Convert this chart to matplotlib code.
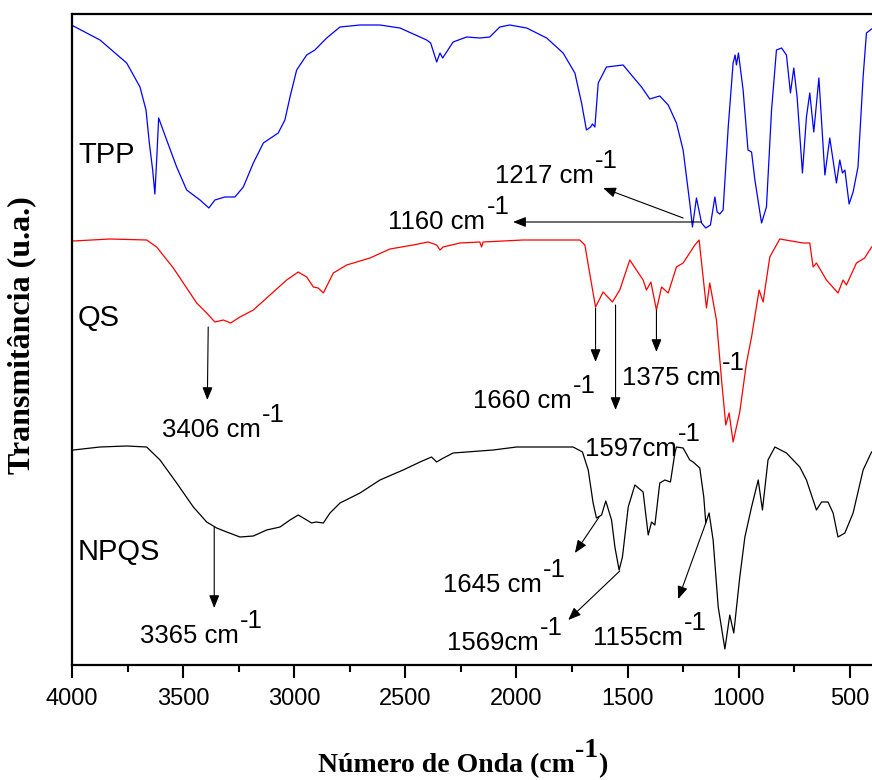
import matplotlib
matplotlib.use("Agg")
import matplotlib.pyplot as plt

plt.rcParams["font.family"] = ["Liberation Sans", "DejaVu Sans"]

# FTIR spectra (wavenumber in cm-1, transmittance in arbitrary units)
tpp_wn = [3994, 3874, 3754, 3694, 3667, 3652, 3637, 3627, 3619, 3610, 3574, 3529, 3484, 3424, 3384,
          3357, 3312, 3267, 3229, 3184, 3139, 3072, 3042, 3019, 2989, 2944, 2907, 2854, 2794, 2704,
          2614, 2524, 2404, 2386, 2359, 2344, 2332, 2285, 2224, 2165, 2120, 2075, 2030, 1954, 1864,
          1790, 1737, 1707, 1685, 1666, 1658, 1647, 1632, 1595, 1520, 1475, 1437, 1400, 1355, 1317,
          1280, 1250, 1220, 1208, 1190, 1167, 1148, 1127, 1107, 1097, 1085, 1070, 1047, 1025, 1016,
          1010, 1001, 980, 958, 942, 927, 897, 875, 852, 830, 807, 785, 767, 752, 737, 713, 695, 680,
          662, 639, 612, 590, 560, 545, 533, 522, 503, 485, 463, 440, 425, 402]
tpp_t = [639, 625, 602, 578, 555, 522, 495, 471, 505, 547, 525, 498, 475, 465, 457,
         465, 468, 468, 478, 502, 522, 532, 545, 568, 595, 610, 615, 627, 638, 640,
         640, 637, 625, 622, 603, 612, 607, 623, 628, 627, 628, 638, 640, 637, 627,
         612, 592, 562, 535, 538, 541, 538, 582, 598, 600, 588, 578, 566, 569, 560,
         542, 515, 462, 438, 467, 442, 437, 440, 468, 453, 451, 455, 538, 602, 610,
         600, 612, 575, 515, 513, 485, 442, 458, 555, 615, 617, 610, 572, 597, 568, 492, 548, 572,
         533, 587, 490, 527, 482, 505, 492, 495, 461, 473, 498, 588, 632, 636]

qs_wn = [3994, 3829, 3664, 3619, 3544, 3484, 3439, 3394, 3357, 3319, 3286, 3244, 3184, 3109, 3034,
         2982, 2944, 2914, 2892, 2869, 2824, 2764, 2659, 2569, 2465, 2397, 2359, 2344, 2330, 2254,
         2165, 2157, 2150, 1970, 1850, 1715, 1692, 1673, 1644, 1610, 1568, 1535, 1490, 1460, 1430,
         1415, 1395, 1370, 1347, 1317, 1280, 1250, 1197, 1178, 1145, 1130, 1100, 1077, 1058, 1043,
         1025, 995, 965, 942, 908, 890, 860, 815, 710, 680, 665, 650, 605, 553, 530, 515, 470, 433, 402]
qs_t = [424, 426, 425, 418, 397, 377, 362, 352, 343, 345, 342, 348, 355, 370, 385,
        393, 388, 378, 377, 372, 392, 400, 407, 416, 420, 423, 420, 415, 418, 422,
        423, 418, 423, 425, 425, 425, 420, 395, 358, 373, 363, 375, 405, 395, 385,
        375, 383, 355, 378, 372, 398, 402, 420, 425, 357, 382, 345, 285, 240, 252,
        223, 253, 302, 328, 375, 363, 408, 426, 422, 422, 398, 402, 385, 372, 385, 380, 402, 407, 418]

npqs_wn = [3994, 3874, 3754, 3664, 3604, 3529, 3454, 3394, 3349, 3304, 3244, 3184, 3124, 3064, 3019,
           2982, 2944, 2922, 2902, 2869, 2839, 2794, 2704, 2614, 2510, 2434, 2382, 2359, 2337, 2285,
           2224, 2105, 1999, 1850, 1745, 1703, 1677, 1655, 1640, 1617, 1598, 1572, 1557, 1538, 1523,
           1497, 1467, 1430, 1407, 1392, 1377, 1355, 1332, 1307, 1287, 1280, 1250, 1220, 1205, 1175,
           1157, 1148, 1133, 1115, 1092, 1062, 1040, 1022, 995, 972, 942, 912, 893, 868, 837, 785,
           725, 695, 650, 627, 598, 575, 553, 522, 485, 440, 402]
npqs_t = [215, 218, 219, 218, 205, 182, 158, 143, 137, 133, 128, 129, 135, 138, 145,
          150, 145, 142, 143, 142, 152, 162, 172, 185, 195, 203, 208, 203, 206, 212,
          213, 215, 218, 218, 218, 213, 195, 162, 147, 150, 164, 145, 118, 95, 108,
          158, 180, 173, 130, 143, 140, 182, 185, 183, 212, 218, 217, 205, 203, 197,
          168, 142, 152, 125, 58, 16, 50, 32, 88, 128, 158, 185, 155, 205, 218, 212,
          198, 185, 155, 163, 163, 152, 128, 132, 152, 195, 213]

# sample names
names = ["TPP", "QS", "NPQS"]
name_y = [510, 347, 113]

# band labels: text, text x/y (left, baseline), arrow tail, arrow tip
bands = ["1217 cm", "1160 cm", "3406 cm", "3365 cm", "1660 cm", "1597cm",
         "1375 cm", "1645 cm", "1569cm", "1155cm"]
band_text_xy = [(2097, 482), (2578, 436), (3595, 228), (3694, 22), (2196, 257), (1692, 209),
                (1527, 280), (2331, 73), (2314, 15), (1656, 20)]
band_tail = [(1250, 447), (1167, 443), (3387, 338), (3360, 138), (1644, 357), (1554, 360),
             (1370, 355), (1628, 148), (1535, 94), (1148, 142)]
band_tip = [(1610, 477), (2015, 443), (3391, 265), (3360, 57), (1644, 303), (1554, 255),
            (1370, 313), (1737, 112), (1767, 45), (1272, 66)]

fig = plt.figure(figsize=(8.72, 7.8), dpi=100)
ax = fig.add_axes([72 / 872, 115 / 780, 800 / 872, 651 / 780])

ax.plot(tpp_wn, tpp_t, color="#0000FF", lw=0.9)
ax.plot(qs_wn, qs_t, color="#FF0000", lw=0.9)
ax.plot(npqs_wn, npqs_t, color="black", lw=0.9)

ax.set_xlim(4000, 400)
ax.set_ylim(0, 651)
ax.set_xticks([4000, 3500, 3000, 2500, 2000, 1500, 1000, 500])
ax.set_xticks([3750, 3250, 2750, 2250, 1750, 1250, 750], minor=True)
ax.set_yticks([])
ax.tick_params(axis="x", which="major", direction="out", length=9.5, width=1.5, pad=7, labelsize=17)
ax.tick_params(axis="x", which="minor", direction="out", length=5, width=1.5)
ax.spines["right"].set_visible(False)
for side in ["left", "top", "bottom"]:
    ax.spines[side].set_linewidth(1.6)

for name, y in zip(names, name_y):
    ax.text(3973, y, name, fontsize=21, ha="left", va="center")

arrow = dict(arrowstyle="-|>,head_length=0.55,head_width=0.22", mutation_scale=14,
             lw=0.8, color="black", shrinkA=0, shrinkB=0)
for label, txy, tail, tip in zip(bands, band_text_xy, band_tail, band_tip):
    t = ax.text(txy[0], txy[1], label, fontsize=18.5, ha="left", va="baseline")
    ax.annotate("-1", xy=(1, 1), xycoords=t, xytext=(1, -3), textcoords="offset points",
                fontsize=18.5, ha="left", va="baseline")
    ax.annotate("", xy=tip, xytext=tail, arrowprops=arrow)

# axis titles in bold serif with a full-size superscript
serif = ["Liberation Serif", "DejaVu Serif"]
fig.text(22 / 872, (780 - 335) / 780, "Transmitância (u.a.)", rotation=90, fontsize=23,
         fontweight="bold", family=serif, ha="center", va="center")
xl = fig.text(318 / 872, 8 / 780, "Número de Onda (cm", fontsize=20, fontweight="bold",
              family=serif, ha="left", va="baseline")
sup = ax.annotate("-1", xy=(1, 1), xycoords=xl, xytext=(0, -3), textcoords="offset points",
                  fontsize=20, fontweight="bold", family=serif, ha="left", va="baseline",
                  annotation_clip=False)
ax.annotate(")", xy=(1, 0), xycoords=(sup, xl), fontsize=20, fontweight="bold", family=serif,
            ha="left", va="bottom", annotation_clip=False)

fig.savefig("out.png", dpi=100)
